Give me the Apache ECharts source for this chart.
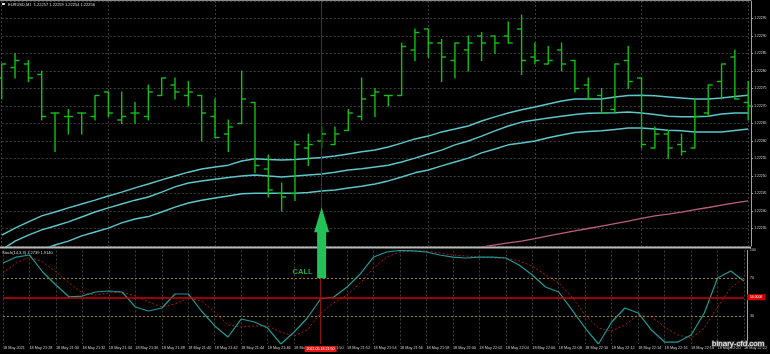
<!DOCTYPE html>
<html><head><meta charset="utf-8">
<script src="https://cdn.jsdelivr.net/npm/echarts@6/dist/echarts.min.js"></script>
<style>html,body{margin:0;padding:0;background:#000;}#c{width:770px;height:354px;}</style>
</head><body><div id="c"></div>
<script>
const times = ['21:26','21:27','21:28','21:29','21:30','21:31','21:32','21:33','21:34','21:35',
'21:36','21:37','21:38','21:39','21:40','21:41','21:42','21:43','21:44','21:45',
'21:46','21:47','21:48','21:49','21:50','21:51','21:52','21:53','21:54','21:55',
'21:56','21:57','21:58','21:59','22:00','22:01','22:02','22:03','22:04','22:05',
'22:06','22:07','22:08','22:09','22:10','22:11','22:12','22:13','22:14','22:15',
'22:16','22:17','22:18','22:19','22:20','22:21','22:22'];

const opens = [1.22278,1.22281,1.22282,1.22279,1.22268,1.22267,1.22268,1.22267,1.22274,1.22266,
1.22268,1.22267,1.22273,1.22276,1.22273,1.22273,1.22267,1.22262,1.22265,1.22271,
1.22252,1.22245,1.22245,1.22258,1.22260,1.22259,1.22263,1.22267,1.22273,1.22273,
1.22273,1.22286,1.22292,1.22288,1.22283,1.22286,1.22290,1.22290,1.22290,1.22292,
1.22284,1.22282,1.22286,1.22283,1.22276,1.22273,1.22269,1.22283,1.22278,1.22258,
1.22262,1.22259,1.22258,1.22268,1.22277,1.22284,1.22271];
const highs = [1.22282,1.22285,1.22283,1.22280,1.22268,1.22269,1.22268,1.22273,1.22274,1.22274,
1.22271,1.22276,1.22278,1.22278,1.22277,1.22273,1.22272,1.22266,1.22280,1.22271,
1.22256,1.22248,1.22260,1.22262,1.22264,1.22264,1.22269,1.22278,1.22275,1.22273,
1.22288,1.22292,1.22292,1.22289,1.22288,1.22290,1.22291,1.22290,1.22294,1.22296,
1.22288,1.22287,1.22288,1.22283,1.22278,1.22275,1.22282,1.22287,1.22278,1.22264,
1.22263,1.22262,1.22272,1.22276,1.22282,1.22286,1.22277];
const lows = [1.22272,1.22278,1.22277,1.22266,1.22257,1.22262,1.22262,1.22266,1.22267,1.22265,
1.22265,1.22266,1.22273,1.22272,1.22270,1.22260,1.22261,1.22257,1.22265,1.22251,
1.22244,1.22240,1.22243,1.22253,1.22258,1.22259,1.22263,1.22266,1.22267,1.22270,
1.22273,1.22283,1.22284,1.22277,1.22278,1.22280,1.22283,1.22285,1.22288,1.22279,
1.22282,1.22282,1.22280,1.22274,1.22272,1.22268,1.22268,1.22275,1.22258,1.22258,
1.22255,1.22256,1.22258,1.22267,1.22272,1.22272,1.22266];
const closes = [1.22282,1.22283,1.22278,1.22267,1.22268,1.22267,1.22268,1.22273,1.22268,1.22267,
1.22268,1.22274,1.22278,1.22274,1.22274,1.22268,1.22261,1.22264,1.22272,1.22253,
1.22246,1.22244,1.22259,1.22259,1.22262,1.22262,1.22268,1.22272,1.22274,1.22273,
1.22287,1.22291,1.22288,1.22284,1.22288,1.22288,1.22288,1.22288,1.22288,1.22283,
1.22283,1.22283,1.22282,1.22275,1.22272,1.22268,1.22282,1.22277,1.22259,1.22262,
1.22258,1.22257,1.22267,1.22276,1.22282,1.22272,1.22270];

const envUpper = [1.222331,1.222351,1.222369,1.222386,1.222397,1.222409,1.222420,1.222431,1.222443,1.222454,
1.222466,1.222477,1.222489,1.222500,1.222511,1.222520,1.222526,1.222531,1.222543,1.222549,
1.222547,1.222546,1.222547,1.222550,1.222553,1.222557,1.222563,1.222569,1.222574,1.222583,
1.222594,1.222606,1.222614,1.222626,1.222634,1.222643,1.222657,1.222669,1.222680,1.222689,
1.222697,1.222706,1.222714,1.222720,1.222720,1.222720,1.222726,1.222730,1.222731,1.222729,
1.222726,1.222723,1.222720,1.222720,1.222723,1.222727,1.222731];
const envMiddle = [1.222289,1.222314,1.222331,1.222346,1.222357,1.222369,1.222383,1.222397,1.222409,1.222420,
1.222431,1.222440,1.222454,1.222469,1.222480,1.222486,1.222491,1.222496,1.222500,1.222503,
1.222500,1.222497,1.222500,1.222503,1.222506,1.222511,1.222517,1.222521,1.222526,1.222531,
1.222540,1.222551,1.222563,1.222574,1.222589,1.222600,1.222614,1.222629,1.222643,1.222654,
1.222660,1.222666,1.222671,1.222676,1.222679,1.222680,1.222681,1.222683,1.222680,1.222676,
1.222671,1.222669,1.222669,1.222671,1.222677,1.222680,1.222680];
const envLower = [1.222249,1.222263,1.222274,1.222289,1.222303,1.222314,1.222329,1.222340,1.222351,1.222366,
1.222377,1.222384,1.222397,1.222411,1.222423,1.222431,1.222437,1.222443,1.222449,1.222451,
1.222451,1.222451,1.222451,1.222453,1.222457,1.222460,1.222466,1.222471,1.222477,1.222486,
1.222497,1.222509,1.222517,1.222529,1.222540,1.222551,1.222566,1.222577,1.222589,1.222594,
1.222600,1.222609,1.222617,1.222624,1.222627,1.222629,1.222633,1.222637,1.222637,1.222634,
1.222631,1.222629,1.222626,1.222626,1.222626,1.222630,1.222634];
const slowMA = [null,null,null,null,null,null,null,null,null,null,
null,null,null,null,null,null,null,null,null,null,
null,null,null,null,null,null,null,null,null,null,
1.222254,1.222261,1.222269,1.222276,1.222283,1.222289,1.222297,1.222303,1.222309,1.222314,
1.222321,1.222329,1.222336,1.222343,1.222350,1.222357,1.222364,1.222371,1.222379,1.222386,
1.222391,1.222397,1.222404,1.222410,1.222417,1.222423,1.222429];

const stochK = [86.6,93.0,95.2,77.0,63.1,50.3,51.3,55.6,56.7,55.6,
39.6,35.3,38.5,53.5,53.5,35.3,19.3,7.5,26.7,23.5,
17.1,0,12.8,27.8,48.1,50.3,61.0,74.9,93.0,98.4,
100,99.5,98.4,95.2,93.0,92.0,93.0,93.0,92.0,84.5,
73.8,61.0,55.6,36.4,17.1,0,23.5,38.5,33.2,15.0,
2.1,2.1,9.6,33.2,70.6,78.1,67.4];
const stochD = [75.9,86.6,93.0,87.7,77.0,65.2,54.5,52.4,54.5,55.6,
51.3,44.9,39.6,42.8,49.2,46.0,34.2,20.3,18.2,19.3,
19.3,12.8,8.6,15.0,33.2,43.9,52.4,65.2,81.3,93.0,
98.4,99.5,99.5,97.3,95.2,94.1,93.0,92.0,92.0,88.8,
83.4,73.8,65.2,50.3,31.0,17.1,13.9,20.3,31.0,28.9,
18.2,9.6,6.4,17.1,39.6,59.9,70.6];

const stochLevels = [70, 50, 30];
const priceTicks = [1.2223, 1.2230, 0.00005];
const signalIndex = 24;
const signalPrice = 1.222411;
const signalStoch = 77;

const FONT = '"Liberation Sans", Arial, sans-serif';
const labels = times.map((t, i) => i === 0 ? '18 May 2021' : '18 May ' + t);
const ohlc = times.map((t, i) => [i, opens[i], highs[i], lows[i], closes[i]]);

const chart = echarts.init(document.getElementById('c'), null, {renderer: 'canvas'});
const gridLine = {show: true, lineStyle: {color: '#3d3d3d', type: [2, 2], width: 1}};

const option = {
  backgroundColor: '#000',
  animation: false,
  grid: [
    {left: 1.7, right: 21.8, top: 1, height: 245},
    {left: 1.7, right: 21.8, top: 250.5, height: 93.5}
  ],
  xAxis: [
    {gridIndex: 0, type: 'category', data: labels, boundaryGap: false,
     axisLine: {show: false}, axisTick: {show: false}, axisLabel: {show: false}, splitLine: gridLine},
    {gridIndex: 1, type: 'category', data: labels, boundaryGap: false,
     axisLine: {show: false}, axisTick: {show: false},
     axisLabel: {show: true, interval: 1, align: 'left', margin: 2, color: '#cfcfcf', fontSize: 3.8, fontFamily: FONT},
     splitLine: gridLine}
  ],
  yAxis: [
    {gridIndex: 0, type: 'value', position: 'right', offset: 3,
     min: priceTicks[0], max: priceTicks[1], interval: priceTicks[2],
     axisLine: {show: true, lineStyle: {color: '#a0a0a0'}},
     axisTick: {show: true, length: 2, lineStyle: {color: '#a0a0a0'}},
     axisLabel: {showMinLabel: false, showMaxLabel: false, margin: 3, color: '#d8d8d8', fontSize: 3.4, fontFamily: FONT,
       formatter: v => v.toFixed(5)},
     splitLine: gridLine},
    {gridIndex: 1, type: 'value', position: 'right', offset: 3, min: 0, max: 100, interval: 10,
     axisLine: {show: true, lineStyle: {color: '#a0a0a0'}},
     axisTick: {show: false},
     axisLabel: {margin: 3, color: '#d8d8d8', fontSize: 3.4, fontFamily: FONT,
       formatter: v => { const r = Math.round(v); return (r === 100 || r === 70 || r === 30) ? String(r) : ''; }},
     splitLine: {show: false}}
  ],
  series: [
    {
      type: 'custom', name: 'EURUSD', xAxisIndex: 0, yAxisIndex: 0, z: 3,
      data: ohlc, encode: {x: 0, y: [1, 2, 3, 4]},
      renderItem: function (params, api) {
        const i = api.value(0);
        const o = api.coord([i, api.value(1)]);
        const h = api.coord([i, api.value(2)]);
        const l = api.coord([i, api.value(3)]);
        const c = api.coord([i, api.value(4)]);
        const x = h[0];
        const st = {stroke: '#12c012', lineWidth: 1.4};
        return {type: 'group', children: [
          {type: 'line', shape: {x1: x, y1: h[1] - 0.5, x2: x, y2: l[1] + 0.5}, style: st},
          {type: 'line', shape: {x1: x - 4.5, y1: o[1], x2: x, y2: o[1]}, style: st},
          {type: 'line', shape: {x1: x, y1: c[1], x2: x + 4.5, y2: c[1]}, style: st}
        ]};
      }
    },
    {type: 'line', name: 'upper', xAxisIndex: 0, yAxisIndex: 0, data: envUpper, symbol: 'none', z: 2,
     lineStyle: {color: '#5cc6c8', width: 1.5}},
    {type: 'line', name: 'middle', xAxisIndex: 0, yAxisIndex: 0, data: envMiddle, symbol: 'none', z: 2,
     lineStyle: {color: '#5cc6c8', width: 1.5},
     markLine: {silent: true, symbol: ['none', 'none'], animation: false,
       data: [{xAxis: labels[signalIndex], lineStyle: {color: '#8e1414', width: 1, type: 'solid'}, label: {show: false}}]},
     markPoint: {silent: true, animation: false, z: 20,
       data: [{coord: [labels[signalIndex], signalPrice],
         symbol: 'path://M7.5,0 L15,25 L12,25 L12,71 L3,71 L3,25 L0,25 Z',
         symbolSize: [15, 71], symbolKeepAspect: false, symbolOffset: [0, '50%'],
         itemStyle: {color: '#24c158'}, label: {show: false}}]}
    },
    {type: 'line', name: 'lower', xAxisIndex: 0, yAxisIndex: 0, data: envLower, symbol: 'none', z: 2,
     lineStyle: {color: '#5cc6c8', width: 1.5}},
    {type: 'line', name: 'slowMA', xAxisIndex: 0, yAxisIndex: 0, data: slowMA, symbol: 'none', z: 2,
     lineStyle: {color: '#b9607c', width: 1.3}},
    {type: 'line', name: '%D', xAxisIndex: 1, yAxisIndex: 1, data: stochD, symbol: 'none', z: 3,
     lineStyle: {color: '#a81c1c', width: 1, type: [2, 2]}},
    {type: 'line', name: '%K', xAxisIndex: 1, yAxisIndex: 1, data: stochK, symbol: 'none', z: 4,
     lineStyle: {color: '#1f9a98', width: 1.2},
     markLine: {silent: true, symbol: ['none', 'none'], animation: false, precision: 4,
       data: [
         {yAxis: stochLevels[0], lineStyle: {color: '#9c8a00', width: 1, type: [2, 2]}, label: {show: false}},
         {yAxis: stochLevels[2], lineStyle: {color: '#9c8a00', width: 1, type: [2, 2]}, label: {show: false}},
         {yAxis: stochLevels[1], lineStyle: {color: '#cc0000', width: 1.5, type: 'solid'},
          label: {show: true, position: 'end', distance: 3, formatter: '50.0000', color: '#fff', fontSize: 3.4,
            fontFamily: FONT, backgroundColor: '#d60000', padding: [1.5, 3]}},
         {xAxis: labels[signalIndex], lineStyle: {color: '#8e1414', width: 1, type: 'solid'},
          label: {show: true, position: 'start', distance: 2, formatter: '2021.05.18 21:50', color: '#fff',
            fontSize: 3.6, fontFamily: FONT, backgroundColor: '#e01515', padding: [1, 2]}}
       ]},
     markPoint: {silent: true, animation: false,
       data: [{coord: [labels[signalIndex], signalStoch], symbol: 'rect', symbolSize: 1,
         itemStyle: {color: 'rgba(0,0,0,0)'},
         label: {show: true, position: 'inside', offset: [-18, 0], formatter: 'CALL', color: '#20a844',
           fontSize: 7.5, fontWeight: 'bold', fontFamily: FONT}}]}
    }
  ],
  graphic: [
    {type: 'line', z: 1, shape: {x1: 0, y1: 0.5, x2: 751, y2: 0.5}, style: {stroke: '#8a8a8a', lineWidth: 1}},
    {type: 'line', z: 1, shape: {x1: 0, y1: 247.5, x2: 751, y2: 247.5}, style: {stroke: '#b8b8b8', lineWidth: 2}},
    {type: 'rect', z: 5, shape: {x: 2, y: 3, width: 3, height: 2}, style: {fill: '#e0e0e0'}},
    {type: 'text', z: 5, style: {x: 8, y: 2.5, text: 'EURUSD,M1  1.22257 1.22259 1.22254 1.22256',
      fill: '#dcdcdc', font: '4px "Liberation Sans", Arial, sans-serif'}},
    {type: 'text', z: 5, style: {x: 2, y: 251, text: 'Stoch(14,3,3) 1.2739 1.9140',
      fill: '#dcdcdc', font: '4px "Liberation Sans", Arial, sans-serif'}},
    {type: 'text', z: 30, style: {x: 712, y: 340, text: 'binary-cfd.com', fill: '#ffffff',
      stroke: '#555', lineWidth: 1.5, font: '8px "Liberation Sans", Arial, sans-serif'}}
  ]
};
chart.setOption(option);
</script>
</body></html>
